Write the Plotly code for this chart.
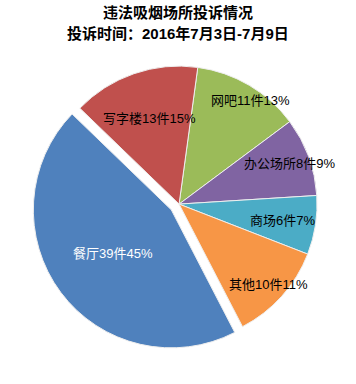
import math
import plotly.graph_objects as go

labels = ["网吧", "办公场所", "商场", "其他", "餐厅", "写字楼"]
counts = [11, 8, 6, 10, 39, 13]
percents = ["13%", "9%", "7%", "11%", "45%", "15%"]
colors = ["#9BBB59", "#8064A2", "#4BACC6", "#F79646", "#4F81BD", "#C0504D"]
pulls = [0, 0, 0, 0, 0.07, 0]
text_colors = ["black", "black", "black", "black", "white", "black"]
label_radius = [0.91, 0.85, 0.76, 0.875, 0.525, 0.66]
label_turn = [4, 0, 0, 0, 0, 0]

texts = [f"{l}{c}件{p}" for l, c, p in zip(labels, counts, percents)]

W, H = 356, 384
dom_x = [0.088, 0.918]
dom_y = [0.084, 0.853]
rotation = 7.8
FONT = "Liberation Sans, Noto Sans CJK SC"

fig = go.Figure(go.Pie(
    labels=labels,
    values=counts,
    textinfo="none",
    marker=dict(colors=colors, line=dict(color="#eeeeee", width=1)),
    pull=pulls,
    sort=False,
    direction="clockwise",
    rotation=rotation,
    hoverinfo="none",
    domain=dict(x=dom_x, y=dom_y),
    showlegend=False,
))

# label placement derived from slice angles (same geometry plotly uses)
dw = W * (dom_x[1] - dom_x[0])
dh = H * (dom_y[1] - dom_y[0])
r = min(dw, dh) / 2 / (1 + max(pulls))
cx = W * (dom_x[0] + dom_x[1]) / 2
cy = H * (1 - (dom_y[0] + dom_y[1]) / 2)
total = sum(counts)
cum = 0
annotations = []
for t, v, p, k, turn, col in zip(texts, counts, pulls, label_radius, label_turn, text_colors):
    mid = math.radians(rotation + (cum + v / 2) / total * 360)
    cum += v
    ox = cx + p * r * math.sin(mid)
    oy = cy - p * r * math.cos(mid)
    a = mid + math.radians(turn)
    px = ox + k * r * math.sin(a)
    py = oy - k * r * math.cos(a)
    annotations.append(dict(
        x=px / W, y=1 - py / H, xref="paper", yref="paper",
        text=t, showarrow=False, xanchor="center", yanchor="middle",
        font=dict(size=13, color=col, family=FONT),
    ))

annotations.append(dict(
    x=0.5, y=1 - 12 / H, xref="paper", yref="paper", showarrow=False,
    text="<b>违法吸烟场所投诉情况</b>", xanchor="center", yanchor="middle",
    font=dict(size=15, color="black", family=FONT)))
annotations.append(dict(
    x=0.5, y=1 - 33 / H, xref="paper", yref="paper", showarrow=False,
    text="<b>投诉时间：2016年7月3日-7月9日</b>", xanchor="center", yanchor="middle",
    font=dict(size=15, color="black", family=FONT)))

fig.update_layout(
    width=W, height=H,
    margin=dict(l=0, r=0, t=0, b=0),
    paper_bgcolor="white",
    plot_bgcolor="white",
    annotations=annotations,
)

fig.write_html("out.html", config={"displayModeBar": False},
               post_script="document.body.style.margin='0';")
